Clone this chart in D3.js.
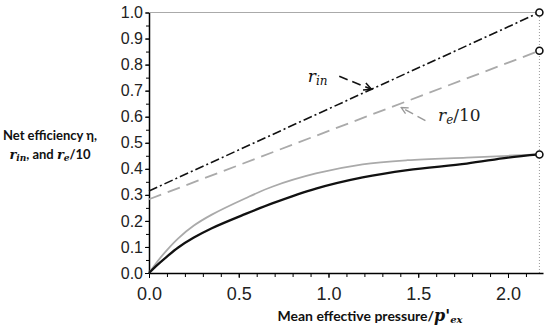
<!DOCTYPE html>
<html>
<head>
<meta charset="utf-8">
<script src="https://cdn.jsdelivr.net/npm/d3@7"></script>
<style>
  body { margin: 0; background: #fff; }
  .tick text { font-family: "Liberation Sans", Arial, sans-serif; fill: #222; }
  .ttl { font-family: Lato, "Open Sans", sans-serif; font-weight: bold; fill: #111; }
  .mth { font-family: "DejaVu Serif", "Liberation Serif", serif; font-style: italic; }
</style>
</head>
<body>
<div id="chart"></div>
<script>
// pressure values (mean effective pressure / p'ex)
var xEnd = 2.175;
var rInLine = [[0, 0.315], [xEnd, 1.0]];
var reLine = [[0, 0.283], [xEnd, 0.853]];
var etaGray = [[0, 0], [0.05, 0.047], [0.1, 0.088], [0.163, 0.133], [0.25, 0.182], [0.35, 0.224],
  [0.535, 0.286], [0.69, 0.332], [0.93, 0.382], [1.19, 0.417], [1.44, 0.433], [1.77, 0.443],
  [2.0, 0.45], [xEnd, 0.455]];
var etaBlack = [[0, 0], [0.05, 0.033], [0.1, 0.063], [0.163, 0.098], [0.25, 0.136], [0.35, 0.172],
  [0.535, 0.226], [0.69, 0.268], [0.93, 0.324], [1.19, 0.367], [1.44, 0.395], [1.77, 0.42],
  [2.0, 0.443], [xEnd, 0.455]];
var endPoints = [[xEnd, 1.0], [xEnd, 0.853], [xEnd, 0.455]];
var xTicks = [0, 0.5, 1.0, 1.5, 2.0];
var yTicks = [0, 0.1, 0.2, 0.3, 0.4, 0.5, 0.6, 0.7, 0.8, 0.9, 1.0];

var width = 550, height = 330;
var margin = { top: 12.5, right: 7, bottom: 57, left: 149 };

var svg = d3.select("#chart").append("svg")
  .attr("width", width).attr("height", height);

var x = d3.scaleLinear().domain([0, 2.195]).range([margin.left, width - margin.right]);
var y = d3.scaleLinear().domain([0, 1]).range([height - margin.bottom, margin.top]);

// top border and dotted end line
svg.append("line")
  .attr("x1", x(0)).attr("x2", x(xEnd)).attr("y1", y(1)).attr("y2", y(1))
  .style("stroke", "#aaa").style("stroke-width", 1.2);
svg.append("line")
  .attr("x1", x(xEnd)).attr("x2", x(xEnd)).attr("y1", y(0)).attr("y2", y(1))
  .style("stroke", "#999").style("stroke-width", 1).style("stroke-dasharray", "1,2");

// axes
var xMinor = d3.range(0, 2.15, 0.1);
svg.append("g")
  .attr("transform", "translate(0," + y(0) + ")")
  .call(d3.axisBottom(x).tickValues(xMinor).tickSize(4).tickFormat(""))
  .call(function(g) { g.select(".domain").remove(); });
var xAxis = svg.append("g")
  .attr("transform", "translate(0," + y(0) + ")")
  .call(d3.axisBottom(x).tickValues(xTicks).tickSize(5).tickSizeOuter(0).tickFormat(d3.format(".1f")));
xAxis.selectAll("text").style("font-size", "18px").attr("dy", "1.05em");
xAxis.select(".domain").style("stroke-width", 1.5);

var yMinor = d3.range(0, 1.001, 0.05);
svg.append("g")
  .attr("transform", "translate(" + x(0) + ",0)")
  .call(d3.axisLeft(y).tickValues(yMinor).tickSize(3).tickFormat(""))
  .call(function(g) { g.select(".domain").remove(); });
var yAxis = svg.append("g")
  .attr("transform", "translate(" + x(0) + ",0)")
  .call(d3.axisLeft(y).tickValues(yTicks).tickSize(4).tickSizeOuter(0).tickFormat(d3.format(".1f")));
yAxis.selectAll("text").style("font-size", "16px").attr("x", -6);
yAxis.select(".domain").style("stroke-width", 1.5);

var line = d3.line().x(function(d) { return x(d[0]); }).y(function(d) { return y(d[1]); });
var curve = d3.line().curve(d3.curveCatmullRom.alpha(0.5))
  .x(function(d) { return x(d[0]); }).y(function(d) { return y(d[1]); });

svg.append("path").datum(rInLine).attr("d", line)
  .style("fill", "none").style("stroke", "#111").style("stroke-width", 1.6)
  .style("stroke-dasharray", "9,3,2,3");
svg.append("path").datum(reLine).attr("d", line)
  .style("fill", "none").style("stroke", "#aaa").style("stroke-width", 1.8)
  .style("stroke-dasharray", "13,7");
svg.append("path").datum(etaGray).attr("d", curve)
  .style("fill", "none").style("stroke", "#aaa").style("stroke-width", 1.8);
svg.append("path").datum(etaBlack).attr("d", curve)
  .style("fill", "none").style("stroke", "#111").style("stroke-width", 2.3);

svg.selectAll(".endpt").data(endPoints).enter().append("circle")
  .attr("class", "endpt")
  .attr("cx", function(d) { return x(d[0]); }).attr("cy", function(d) { return y(d[1]); })
  .attr("r", 3.5).style("fill", "#fff").style("stroke", "#111").style("stroke-width", 1.6);

// annotation arrows
var defs = svg.append("defs");
["#111", "#999"].forEach(function(c, i) {
  defs.append("marker").attr("id", "ah" + i)
    .attr("viewBox", "0 0 10 10").attr("refX", 9).attr("refY", 5)
    .attr("markerWidth", 6).attr("markerHeight", 6).attr("orient", "auto")
    .append("path").attr("d", "M1,1L9,5L1,9").style("fill", "none")
    .style("stroke", c).style("stroke-width", 1.6);
});
svg.append("line")
  .attr("x1", x(1.06)).attr("y1", y(0.755)).attr("x2", x(1.24)).attr("y2", y(0.705))
  .style("stroke", "#111").style("stroke-width", 1.6).style("stroke-dasharray", "9,5")
  .attr("marker-end", "url(#ah0)");
svg.append("line")
  .attr("x1", x(1.54)).attr("y1", y(0.585)).attr("x2", x(1.405)).attr("y2", y(0.635))
  .style("stroke", "#999").style("stroke-width", 1.4).style("stroke-dasharray", "9,5")
  .attr("marker-end", "url(#ah1)");

var lab1 = svg.append("text").attr("class", "mth").attr("x", x(0.885)).attr("y", y(0.735))
  .style("font-size", "17px").style("fill", "#111");
lab1.append("tspan").text("r");
lab1.append("tspan").text("in").style("font-size", "12px").attr("dy", 3);
var lab2 = svg.append("text").attr("class", "mth").attr("x", x(1.61)).attr("y", y(0.585))
  .style("font-size", "17px").style("fill", "#222");
lab2.append("tspan").text("r");
lab2.append("tspan").text("e").style("font-size", "12px").attr("dy", 3);
lab2.append("tspan").text("/10").style("font-style", "normal").attr("dy", -3);

// axis titles
var t1 = svg.append("text").attr("class", "ttl").attr("x", 50).attr("y", 140)
  .attr("text-anchor", "middle").style("font-size", "13px").text("Net efficiency η,");
var t2 = svg.append("text").attr("class", "ttl").attr("x", 50).attr("y", 159)
  .attr("text-anchor", "middle").style("font-size", "13px");
t2.append("tspan").attr("class", "mth").text("r");
t2.append("tspan").attr("class", "mth").text("in").style("font-size", "9px").attr("dy", 2);
t2.append("tspan").text(", and ").attr("dy", -2);
t2.append("tspan").attr("class", "mth").text("r");
t2.append("tspan").attr("class", "mth").text("e").style("font-size", "9px").attr("dy", 2);
t2.append("tspan").text("/10").attr("dy", -2);

var t3 = svg.append("text").attr("class", "ttl").attr("x", 370).attr("y", 321)
  .attr("text-anchor", "middle").style("font-size", "14px");
t3.append("tspan").text("Mean effective pressure/");
t3.append("tspan").attr("class", "mth").text("p'").style("font-size", "16px");
t3.append("tspan").attr("class", "mth").text("ex").style("font-size", "10px").attr("dy", 2);
</script>
</body>
</html>
